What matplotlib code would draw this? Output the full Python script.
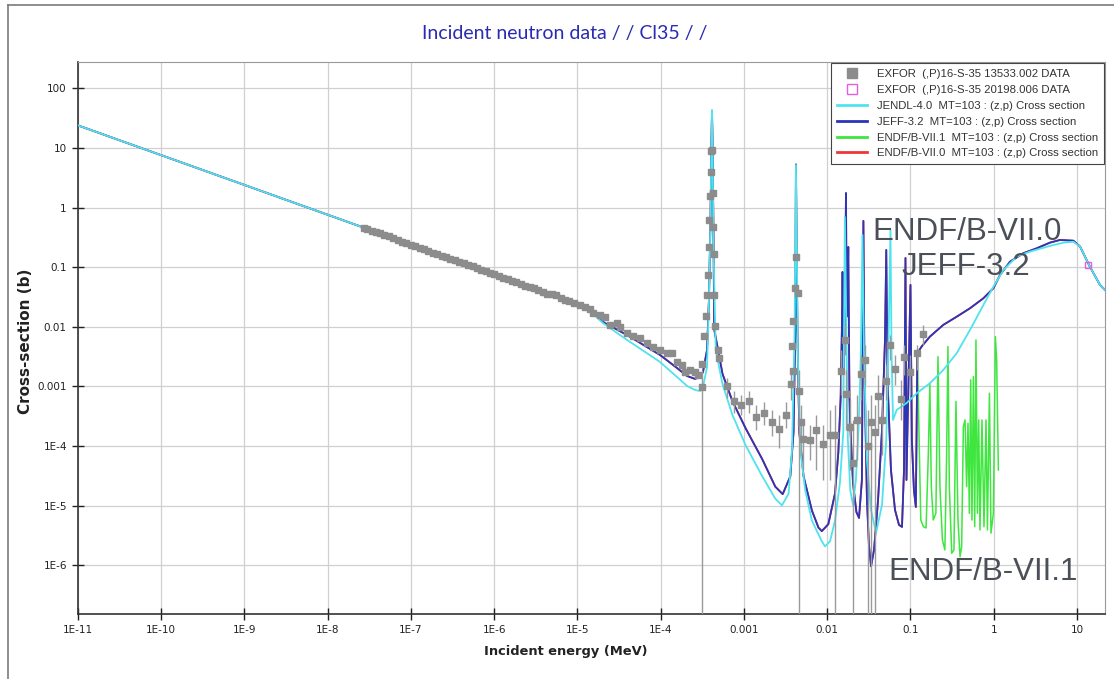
import matplotlib
matplotlib.use("Agg")
import matplotlib.pyplot as plt
from matplotlib.lines import Line2D

# ---- evaluated cross sections, Cl35 (n,p), energy in MeV, sigma in barns ----
jeff_e = [1e-11, 1e-8, 1e-5, 1.41e-5, 2.02e-5, 3.94e-5, 9.8e-5, 1.57e-4, 2.07e-4,
          2.58e-4, 2.96e-4, 3.22e-4, 3.60e-4, 3.80e-4, 3.96e-4, 4.07e-4, 4.13e-4,
          4.19e-4, 4.31e-4, 4.39e-4, 5.52e-4, 7.26e-4, 1.05e-3, 1.66e-3, 2.38e-3,
          2.92e-3, 3.60e-3, 3.94e-3, 4.13e-3, 4.21e-3, 4.38e-3, 4.62e-3, 5.20e-3,
          6.55e-3, 7.85e-3, 8.61e-3, 1.03e-2, 1.24e-2, 1.36e-2, 1.45e-2, 1.50e-2,
          1.53e-2, 1.57e-2, 1.63e-2, 1.68e-2, 1.71e-2, 1.74e-2, 1.79e-2, 1.85e-2,
          1.88e-2, 2.04e-2, 2.24e-2, 2.41e-2, 2.61e-2, 2.72e-2, 2.80e-2, 3.00e-2,
          3.17e-2, 3.36e-2, 3.65e-2, 4.08e-2, 4.55e-2, 4.94e-2, 5.12e-2, 5.30e-2,
          5.83e-2, 6.52e-2, 7.28e-2, 7.91e-2, 8.36e-2, 8.71e-2, 8.95e-2, 0.100,
          0.104, 0.110, 0.116, 0.121, 0.136, 0.171, 0.248, 0.359, 0.519, 0.752,
          0.991, 1.19, 1.57, 2.27, 3.28, 4.74, 6.25, 9.06, 10.9, 14.3, 18.9, 21.7]
jeff_s = [24.0, 0.76, 0.024, 0.0185, 0.0121, 0.0073, 0.00338, 0.00204, 0.0015,
          0.00134, 0.00144, 0.00175, 0.0041, 0.03, 0.62, 13.7, 40.4,
          13.7, 0.3, 0.0091, 0.00163, 5.69e-4, 1.97e-4, 6.0e-5, 2.08e-5,
          1.56e-5, 3.10e-5, 1.72e-4, 0.0091, 5.31, 0.0091, 1.72e-4, 3.10e-5,
          8.28e-6, 4.28e-6, 3.74e-6, 4.88e-6, 1.60e-5, 7.81e-5, 6.46e-4, 0.0089,
          0.0834, 0.002, 0.01, 1.76, 0.02, 0.015, 0.219, 6.4e-4,
          2.74e-4, 2.4e-5, 7.84e-6, 6.22e-6, 2.7e-5, 0.6, 0.002, 1.25e-5,
          2.19e-6, 9.6e-7, 1.81e-6, 1.25e-5, 1.84e-4, 6.03e-3, 0.195, 0.00129,
          3.97e-5, 8.47e-6, 4.75e-6, 4.4e-6, 3.97e-5, 0.143, 2.7e-5, 0.0505,
          1.24e-4, 1.83e-5, 9.5e-6, 0.00361, 0.00467, 0.00685, 0.0108, 0.0148,
          0.0205, 0.0302, 0.0444, 0.0743, 0.124, 0.172, 0.208, 0.259, 0.287,
          0.279, 0.222, 0.102, 0.0505, 0.0416]

jendl_e = [1e-11, 1e-8, 1e-5, 1.41e-5, 2.02e-5, 3.94e-5, 9.8e-5, 1.57e-4, 2.07e-4,
           2.58e-4, 2.96e-4, 3.22e-4, 3.60e-4, 3.80e-4, 3.96e-4, 4.07e-4, 4.13e-4,
           4.19e-4, 4.31e-4, 4.58e-4, 5.52e-4, 7.26e-4, 1.05e-3, 1.66e-3, 2.38e-3,
           2.86e-3, 3.44e-3, 3.78e-3, 4.06e-3, 4.21e-3, 4.46e-3, 4.75e-3, 5.43e-3,
           6.55e-3, 8.61e-3, 9.42e-3, 1.08e-2, 1.24e-2, 1.42e-2, 1.56e-2, 1.63e-2,
           1.71e-2, 1.77e-2, 1.89e-2, 2.04e-2, 2.21e-2, 2.41e-2, 2.54e-2, 2.65e-2,
           2.76e-2, 3.00e-2, 3.36e-2, 3.86e-2, 4.55e-2, 5.12e-2, 5.48e-2, 5.75e-2,
           5.92e-2, 6.17e-2, 6.83e-2, 9.0e-2, 0.119, 0.171, 0.248, 0.359, 0.519,
           0.752, 0.991, 1.31, 1.89, 2.72, 4.74, 6.87, 9.06, 10.9, 14.3, 18.9, 21.7]
jendl_s = [24.0, 0.76, 0.024, 0.0185, 0.0116, 0.00603, 0.00258, 0.00144, 0.00102,
           8.73e-4, 8.4e-4, 9.81e-4, 0.00212, 0.03, 0.6, 14.0, 43.6,
           14.0, 0.2, 0.0041, 0.0011, 3.34e-4, 1.02e-4, 3.10e-5, 1.31e-5,
           1.01e-5, 1.60e-5, 8.93e-5, 0.00922, 5.2, 0.00242, 8.93e-5, 1.83e-5,
           5.58e-6, 2.52e-6, 2.07e-6, 2.52e-6, 5.58e-6, 2.4e-5, 1.72e-4, 0.698,
           0.0041, 1.27e-4, 1.83e-5, 1.03e-5, 2.7e-5, 2.74e-4, 0.0041, 0.348,
           0.0041, 5.7e-5, 8.47e-6, 3.48e-6, 1.03e-5, 1.27e-4, 0.0089, 0.422,
           0.0041, 2.74e-4, 4.04e-4, 5.28e-4, 7.69e-4, 0.00113, 0.00189, 0.00361,
           0.00888, 0.0233, 0.0472, 0.0901, 0.151, 0.183, 0.228, 0.259, 0.268,
           0.222, 0.102, 0.0505, 0.0416]

# ENDF/B-VII.1 unresolved structure between 0.12 and 1.1 MeV
endf71_e = [0.121, 0.128, 0.133, 0.143, 0.154, 0.164, 0.171, 0.178, 0.188,
            0.202, 0.214, 0.226, 0.242, 0.259, 0.272, 0.282, 0.293, 0.313,
            0.333, 0.352, 0.372, 0.394, 0.412, 0.432, 0.452, 0.473, 0.491,
            0.510, 0.529, 0.548, 0.570, 0.591, 0.612, 0.637, 0.660, 0.684,
            0.723, 0.764, 0.808, 0.840, 0.888, 0.927, 0.991, 1.047, 1.085, 1.137]
endf71_s = [0.00361, 7.66e-5, 5.75e-6, 4.44e-6, 4.23e-6, 7.66e-5, 0.00113, 2.08e-5,
            5.75e-6, 7.45e-6, 0.00316, 2.08e-5, 2.65e-6, 1.81e-6, 7.66e-5, 0.00467,
            2.08e-5, 1.59e-6, 1.81e-6, 5.62e-4, 5.75e-6, 1.39e-6, 2.06e-6, 2.12e-4,
            2.74e-4, 2.08e-5, 2.41e-4, 7.45e-6, 0.00129, 5.75e-6, 0.00146, 4.44e-6,
            0.00603, 7.45e-6, 2.74e-4, 3.91e-6, 2.74e-4, 4.44e-6, 2.74e-4, 3.91e-6,
            7.69e-4, 3.46e-6, 7.45e-6, 0.00685, 0.00278, 3.97e-5]

# ---- EXFOR (n,p) measurements ----
exf_e = [2.7e-8, 3.0e-8, 3.4e-8, 3.8e-8, 4.3e-8, 4.8e-8, 5.4e-8, 6.1e-8, 6.9e-8,
         7.8e-8, 8.8e-8, 1.0e-7, 1.12e-7, 1.27e-7, 1.43e-7, 1.62e-7, 1.83e-7,
         2.07e-7, 2.34e-7, 2.64e-7, 2.98e-7, 3.37e-7, 3.8e-7, 4.3e-7, 4.86e-7,
         5.5e-7, 6.2e-7, 7.0e-7, 7.9e-7, 8.9e-7, 1.0e-6, 1.13e-6, 1.28e-6,
         1.45e-6, 1.63e-6, 1.85e-6, 2.09e-6, 2.36e-6, 2.66e-6, 3.0e-6, 3.4e-6,
         3.85e-6, 4.35e-6, 4.9e-6, 5.5e-6, 6.3e-6, 7.1e-6, 8.0e-6, 9.0e-6,
         1.07e-5, 1.23e-5, 1.41e-5, 1.54e-5, 1.86e-5, 2.14e-5, 2.45e-5, 2.98e-5,
         3.24e-5, 3.94e-5, 4.64e-5, 5.64e-5, 6.84e-5, 8.07e-5, 9.8e-5, 1.19e-4,
         1.36e-4, 1.57e-4, 1.80e-4, 1.95e-4, 2.24e-4, 2.58e-4, 2.80e-4, 3.12e-4,
         3.17e-4, 3.34e-4, 3.50e-4, 3.60e-4, 3.66e-4, 3.75e-4, 3.80e-4, 3.91e-4,
         4.02e-4, 4.05e-4, 4.13e-4, 4.20e-4, 4.26e-4, 4.31e-4, 4.39e-4, 4.52e-4,
         4.81e-4, 5.03e-4, 6.34e-4, 7.59e-4, 9.12e-4, 1.15e-3, 1.41e-3, 1.73e-3,
         2.18e-3, 2.62e-3, 3.21e-3, 3.70e-3, 3.85e-3, 3.78e-3, 3.88e-3, 4.06e-3,
         4.21e-3, 4.45e-3, 4.62e-3, 4.89e-3, 5.12e-3, 6.24e-3, 7.36e-3, 8.85e-3,
         1.08e-2, 1.24e-2, 1.45e-2, 1.62e-2, 1.67e-2, 1.90e-2, 2.04e-2, 2.28e-2,
         2.52e-2, 2.82e-2, 3.08e-2, 3.39e-2, 3.72e-2, 4.08e-2, 4.55e-2, 5.12e-2,
         5.70e-2, 6.57e-2, 7.60e-2, 8.45e-2, 9.91e-2, 0.120, 0.140]
exf_s = [0.46, 0.44, 0.41, 0.39, 0.37, 0.345, 0.33, 0.305, 0.29,
         0.27, 0.255, 0.24, 0.228, 0.21, 0.20, 0.19, 0.175,
         0.168, 0.155, 0.149, 0.138, 0.133, 0.122, 0.116, 0.108,
         0.104, 0.096, 0.091, 0.085, 0.081, 0.076, 0.072, 0.066,
         0.064, 0.059, 0.056, 0.053, 0.049, 0.047, 0.045, 0.041,
         0.039, 0.036, 0.035, 0.034, 0.030, 0.028, 0.027, 0.025,
         0.0233, 0.0216, 0.0196, 0.0171, 0.0158, 0.0147, 0.0108, 0.0116,
         0.0099, 0.0079, 0.0069, 0.0065, 0.0054, 0.0046, 0.0041, 0.00365,
         0.00365, 0.00258, 0.0023, 0.00175, 0.00189, 0.00175, 0.00156, 9.8e-4,
         0.00242, 0.0071, 0.0152, 0.0343, 0.0743, 0.219, 0.622, 1.57,
         3.97, 8.77, 9.29, 1.79, 0.474, 0.167, 0.0343, 0.0104,
         0.0041, 0.00295, 0.00102, 5.71e-4, 4.97e-4, 5.71e-4, 3.13e-4, 3.59e-4,
         2.57e-4, 1.97e-4, 3.33e-4, 0.0011, 0.00185, 0.00469, 0.0126, 0.0444,
         0.146, 0.0363, 8.4e-4, 2.57e-4, 1.32e-4, 1.24e-4, 1.84e-4, 1.08e-4,
         1.51e-4, 1.51e-4, 0.00185, 0.0061, 7.37e-4, 2.12e-4, 5.26e-5, 2.74e-4,
         0.00163, 0.00278, 1.02e-4, 2.57e-4, 1.72e-4, 6.93e-4, 2.74e-4, 0.00125,
         0.00497, 0.00199, 6.05e-4, 0.00316, 0.00175, 0.00361, 0.00746]

# error bars (lower / upper ends); 1e-9 means the bar runs off the bottom
bar_e = [3.12e-4, 6.34e-4, 7.59e-4, 9.12e-4, 1.15e-3, 1.41e-3, 1.73e-3, 2.18e-3,
         2.62e-3, 3.21e-3, 3.70e-3, 4.62e-3, 4.89e-3, 5.12e-3, 6.24e-3, 7.36e-3,
         8.85e-3, 1.08e-2, 1.24e-2, 1.45e-2, 1.62e-2, 1.67e-2, 1.90e-2, 2.04e-2,
         2.28e-2, 2.52e-2, 2.82e-2, 3.08e-2, 3.39e-2, 3.72e-2, 4.08e-2, 4.55e-2,
         5.12e-2, 5.70e-2, 6.57e-2, 7.60e-2, 8.45e-2, 9.91e-2, 0.120, 0.140]
bar_lo = [1e-9, 6.43e-4, 3.59e-4, 3.33e-4, 3.59e-4, 1.84e-4, 2.26e-4, 1.48e-4,
          9.3e-5, 2.0e-4, 5.93e-4, 1e-9, 7.1e-5, 3.97e-5, 5.85e-5, 3.97e-5,
          2.7e-5, 2.7e-5, 1e-9, 7.2e-4, 0.00338, 1.84e-4, 3.97e-5, 1e-9,
          5.85e-5, 5.93e-4, 0.00106, 1e-9, 1e-9, 1e-9, 1.84e-4, 7.1e-5,
          5.93e-4, 0.00278, 0.00106, 2.74e-4, 0.00156, 7.2e-4, 0.00189, 0.00497]
bar_hi = [0.0019, 0.00139, 8.4e-4, 7.2e-4, 8.4e-4, 4.9e-4, 5.5e-4, 4.04e-4,
          3.33e-4, 5.5e-4, 0.00175, 0.00189, 4.9e-4, 2.74e-4, 2.26e-4, 3.33e-4,
          2.26e-4, 4.04e-4, 4.9e-4, 0.0041, 0.0108, 0.00189, 5.93e-4, 2.74e-4,
          7.2e-4, 0.00338, 0.00497, 4.04e-4, 7.2e-4, 4.9e-4, 0.00156, 7.2e-4,
          0.0023, 0.00731, 0.00338, 0.00129, 0.00497, 0.00338, 0.00497, 0.0108]

exf2_e = [13.7]
exf2_s = [0.109]

xtick_vals = [1e-11, 1e-10, 1e-9, 1e-8, 1e-7, 1e-6, 1e-5, 1e-4, 1e-3, 1e-2, 1e-1, 1, 10]
xtick_labels = ["1E-11", "1E-10", "1E-9", "1E-8", "1E-7", "1E-6", "1E-5", "1E-4",
                "0.001", "0.01", "0.1", "1", "10"]
ytick_vals = [1e-6, 1e-5, 1e-4, 1e-3, 1e-2, 1e-1, 1, 10, 100]
ytick_labels = ["1E-6", "1E-5", "1E-4", "0.001", "0.01", "0.1", "1", "10", "100"]

C_JENDL = "#4fe3ee"
C_JEFF = "#2a36b8"
C_ENDF71 = "#3ee63e"
C_ENDF70 = "#ee3838"
C_EXFOR = "#8c8c8c"
C_EXFOR2 = "#e060e0"

fig = plt.figure(figsize=(11.14, 6.79), dpi=100)
ax = fig.add_axes([0.0700, 0.0957, 0.9219, 0.8130])
ax.set_xscale("log")
ax.set_yscale("log")
ax.set_xlim(1e-11, 21.7)
ax.set_ylim(1.52e-7, 278)

# evaluations; ENDF/B-VII.0 coincides with JEFF-3.2 and sits underneath
ax.plot(jeff_e, jeff_s, color=C_ENDF70, lw=1.3, zorder=2)
ax.plot(endf71_e, endf71_s, color=C_ENDF71, lw=1.1, zorder=3)
ax.plot(jeff_e, jeff_s, color=C_JEFF, lw=1.3, zorder=4)
ax.plot(jendl_e, jendl_s, color=C_JENDL, lw=1.3, zorder=5)

# measurements
ax.vlines(bar_e, bar_lo, bar_hi, color="#9a9a9a", lw=1.0, zorder=6)
ax.plot(exf_e, exf_s, "s", color=C_EXFOR, ms=4.6, mec=C_EXFOR, zorder=7)
ax.plot(exf2_e, exf2_s, "s", mfc="none", mec=C_EXFOR2, ms=5, mew=1.0, zorder=7)

ax.set_xticks(xtick_vals)
ax.set_xticklabels(xtick_labels)
ax.set_yticks(ytick_vals)
ax.set_yticklabels(ytick_labels)
ax.minorticks_off()
ax.tick_params(axis="both", direction="inout", length=8, width=1.0,
               labelsize=7.5, colors="#222222", pad=4)
ax.grid(True, color="#d0d0d0", lw=0.9)
ax.set_axisbelow(True)
for side in ("left", "bottom"):
    ax.spines[side].set_color("#333333")
    ax.spines[side].set_linewidth(1.2)
for side in ("top", "right"):
    ax.spines[side].set_color("#999999")

handles = [
    Line2D([], [], marker="s", ls="none", color=C_EXFOR, ms=7),
    Line2D([], [], marker="s", ls="none", mfc="none", mec=C_EXFOR2, ms=7),
    Line2D([], [], color=C_JENDL, lw=2),
    Line2D([], [], color=C_JEFF, lw=2),
    Line2D([], [], color=C_ENDF71, lw=2),
    Line2D([], [], color=C_ENDF70, lw=2),
]
labels = [
    "EXFOR  (,P)16-S-35 13533.002 DATA",
    "EXFOR  (,P)16-S-35 20198.006 DATA",
    "JENDL-4.0  MT=103 : (z,p) Cross section",
    "JEFF-3.2  MT=103 : (z,p) Cross section",
    "ENDF/B-VII.1  MT=103 : (z,p) Cross section",
    "ENDF/B-VII.0  MT=103 : (z,p) Cross section",
]
leg = ax.legend(handles, labels, loc="upper right", borderaxespad=0.1,
                prop={"family": "Liberation Sans", "size": 8.2},
                handlelength=2.6, handletextpad=0.9, labelspacing=0.52,
                fancybox=False, edgecolor="#444444", framealpha=1.0,
                borderpad=0.5)
leg.get_frame().set_linewidth(0.8)
for t in leg.get_texts():
    t.set_color("#333333")

# library tags
tag = dict(transform=ax.transAxes, ha="center", va="baseline",
           fontsize=22.5, family="Liberation Sans", color="#4b5058", zorder=8)
ax.text(0.8656, 0.6775, "ENDF/B-VII.0", **tag)
ax.text(0.8647, 0.6141, "JEFF-3.2", **tag)
ax.text(0.8812, 0.0616, "ENDF/B-VII.1", **tag)

fig.text(565 / 1114, 1 - 33 / 679, "Incident neutron data / / Cl35 / /",
         ha="center", va="center", fontsize=14, family="Lato", color="#2a2ab4")
fig.text(26 / 1114, 1 - 341 / 679, "Cross-section (b)", rotation=90,
         ha="center", va="center", fontsize=11, fontweight="bold", color="#222222")
fig.text(566 / 1114, 1 - 651 / 679, "Incident energy (MeV)",
         ha="center", va="center", fontsize=9.4, fontweight="bold", color="#222222")

# outer panel border
fig.add_artist(Line2D([8 / 1114, 8 / 1114], [0, 1 - 5 / 679], color="#7a7a7a", lw=1.2))
fig.add_artist(Line2D([8 / 1114, 1], [1 - 5 / 679, 1 - 5 / 679], color="#7a7a7a", lw=1.2))

fig.savefig("out.png", dpi=100, facecolor="white")
